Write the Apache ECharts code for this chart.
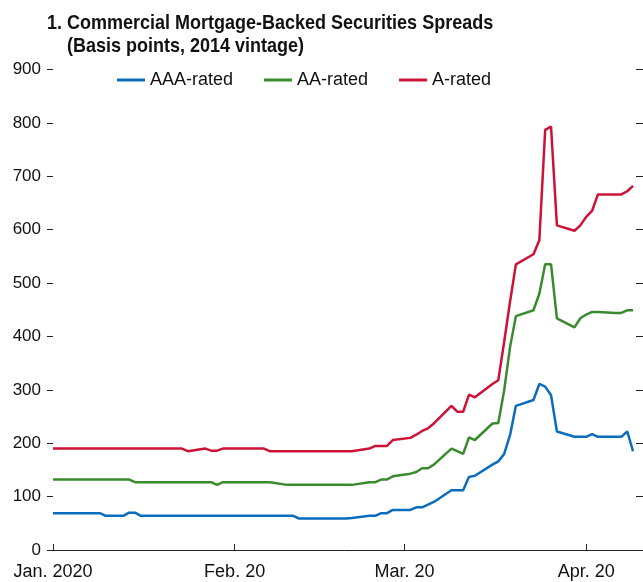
<!DOCTYPE html>
<html>
<head>
<meta charset="utf-8">
<script src="https://cdn.jsdelivr.net/npm/echarts@6/dist/echarts.min.js"></script>
<style>
  html, body { margin: 0; padding: 0; background: #fff; }
  #chart { width: 643px; height: 582px; }
</style>
</head>
<body>
<div id="chart"></div>
<script>
// ---- Data ----
const titleLine1 = '1. Commercial Mortgage-Backed Securities Spreads';
const titleLine2 = '(Basis points, 2014 vintage)';
const seriesNames = ['AAA-rated', 'AA-rated', 'A-rated'];
const monthTicks = ['2020-01-01', '2020-02-01', '2020-03-01', '2020-04-01'];
const monthLabels = ['Jan. 2020', 'Feb. 20', 'Mar. 20', 'Apr. 20'];
const yTicks = [0, 100, 200, 300, 400, 500, 600, 700, 800, 900];

const aaaDates = ['2020-01-01','2020-01-09','2020-01-10','2020-01-13','2020-01-14','2020-01-15','2020-01-16','2020-02-11','2020-02-12','2020-02-20','2020-02-21','2020-02-24','2020-02-25','2020-02-26','2020-02-27','2020-02-28','2020-03-02','2020-03-03','2020-03-04','2020-03-05','2020-03-06','2020-03-09','2020-03-10','2020-03-11','2020-03-12','2020-03-13','2020-03-16','2020-03-17','2020-03-18','2020-03-19','2020-03-20','2020-03-23','2020-03-24','2020-03-25','2020-03-26','2020-03-27','2020-03-30','2020-03-31','2020-04-01','2020-04-02','2020-04-03','2020-04-06','2020-04-07','2020-04-08','2020-04-09'];
const aaaValues = [69,69,64,64,70,70,64,64,59,59,60,64,64,69,69,75,75,80,80,85,90,112,112,112,137,139,160,166,180,215,270,281,311,306,290,222,212,212,212,217,212,212,212,222,185];

const aaDates = ['2020-01-01','2020-01-14','2020-01-15','2020-01-28','2020-01-29','2020-01-30','2020-02-07','2020-02-10','2020-02-21','2020-02-24','2020-02-25','2020-02-26','2020-02-27','2020-02-28','2020-03-02','2020-03-03','2020-03-04','2020-03-05','2020-03-06','2020-03-09','2020-03-10','2020-03-11','2020-03-12','2020-03-13','2020-03-16','2020-03-17','2020-03-18','2020-03-19','2020-03-20','2020-03-23','2020-03-24','2020-03-25','2020-03-26','2020-03-27','2020-03-30','2020-03-31','2020-04-01','2020-04-02','2020-04-03','2020-04-06','2020-04-07','2020-04-08','2020-04-09'];
const aaValues = [132,132,127,127,122,127,127,122,122,127,127,132,132,138,143,146,153,153,160,190,185,180,211,206,237,238,299,380,438,449,480,535,535,434,417,434,441,446,446,444,444,449,449];

const aDates = ['2020-01-01','2020-01-23','2020-01-24','2020-01-27','2020-01-28','2020-01-29','2020-01-30','2020-02-06','2020-02-07','2020-02-21','2020-02-24','2020-02-25','2020-02-26','2020-02-27','2020-02-28','2020-03-02','2020-03-03','2020-03-04','2020-03-05','2020-03-06','2020-03-09','2020-03-10','2020-03-11','2020-03-12','2020-03-13','2020-03-16','2020-03-17','2020-03-18','2020-03-19','2020-03-20','2020-03-23','2020-03-24','2020-03-25','2020-03-26','2020-03-27','2020-03-30','2020-03-31','2020-04-01','2020-04-02','2020-04-03','2020-04-06','2020-04-07','2020-04-08','2020-04-09'];
const aValues = [190,190,185,190,186,186,190,190,185,185,190,195,195,195,206,210,216,223,228,237,270,259,259,291,286,311,318,390,465,535,554,580,787,793,608,598,608,624,635,666,666,666,672,682];

// ---- Helpers: dates -> day offset from Jan 1, 2020 ----
const DAY = 86400000;
const ORIGIN = Date.UTC(2020, 0, 1);
function dayIdx(s) { const p = s.split('-').map(Number); return Math.round((Date.UTC(p[0], p[1] - 1, p[2]) - ORIGIN) / DAY); }
function pairs(dates, vals) { return dates.map((d, i) => [dayIdx(d), vals[i]]); }

const FONT = "'Liberation Sans', Arial, sans-serif";
const colors = ['#0b6cbd', '#3a8a2e', '#cc1337'];
const tickVals = monthTicks.map(dayIdx);
const xMin = dayIdx('2020-01-01');
const xMax = dayIdx('2020-04-09') + 0.5;

const chart = echarts.init(document.getElementById('chart'), null, { renderer: 'canvas' });
chart.setOption({
  animation: false,
  backgroundColor: '#ffffff',
  textStyle: { fontFamily: FONT },
  graphic: [
    { type: 'text', x: 47, y: 23, scaleY: 1.15, style: { text: titleLine1, font: "bold 18px " + FONT, fill: '#111', verticalAlign: 'middle' } },
    { type: 'text', x: 67, y: 46.5, scaleY: 1.15, style: { text: titleLine2, font: "bold 18px " + FONT, fill: '#111', verticalAlign: 'middle' } }
  ],
  legend: {
    data: seriesNames,
    left: 117, top: 71,
    icon: 'rect', itemWidth: 28, itemHeight: 3, itemGap: 31,
    padding: 0,
    textStyle: { fontFamily: FONT, fontSize: 18, color: '#111' }
  },
  grid: { left: 53, right: 7, top: 69.5, bottom: 32, containLabel: false },
  xAxis: {
    type: 'value', min: xMin, max: xMax,
    axisLine: { show: true, lineStyle: { color: '#222', width: 1 } },
    axisTick: { show: true, inside: true, length: 6, lineStyle: { color: '#222' }, customValues: tickVals },
    axisLabel: {
      customValues: tickVals, margin: 13, color: '#111', fontSize: 18, fontFamily: FONT,
      showMinLabel: true, showMaxLabel: true,
      formatter: function (v) { const i = tickVals.indexOf(Math.round(v)); return i >= 0 ? monthLabels[i] : ''; }
    },
    splitLine: { show: false }
  },
  yAxis: [
    {
      type: 'value', min: yTicks[0], max: yTicks[yTicks.length - 1], interval: 100, position: 'left',
      axisLine: { show: false },
      axisTick: { show: true, length: 6, lineStyle: { color: '#222' } },
      axisLabel: { margin: 12, color: '#111', fontSize: 17, fontFamily: FONT },
      splitLine: { show: false }
    },
    {
      type: 'value', min: yTicks[0], max: yTicks[yTicks.length - 1], interval: 100, position: 'right',
      axisLine: { show: false },
      axisTick: { show: true, length: 7, lineStyle: { color: '#222' } },
      axisLabel: { show: false },
      splitLine: { show: false }
    }
  ],
  series: [
    { name: seriesNames[0], type: 'line', data: pairs(aaaDates, aaaValues), showSymbol: false, color: colors[0], lineStyle: { width: 2.5, color: colors[0] } },
    { name: seriesNames[1], type: 'line', data: pairs(aaDates, aaValues), showSymbol: false, color: colors[1], lineStyle: { width: 2.5, color: colors[1] } },
    { name: seriesNames[2], type: 'line', data: pairs(aDates, aValues), showSymbol: false, color: colors[2], lineStyle: { width: 2.5, color: colors[2] } }
  ]
});
</script>
</body>
</html>
